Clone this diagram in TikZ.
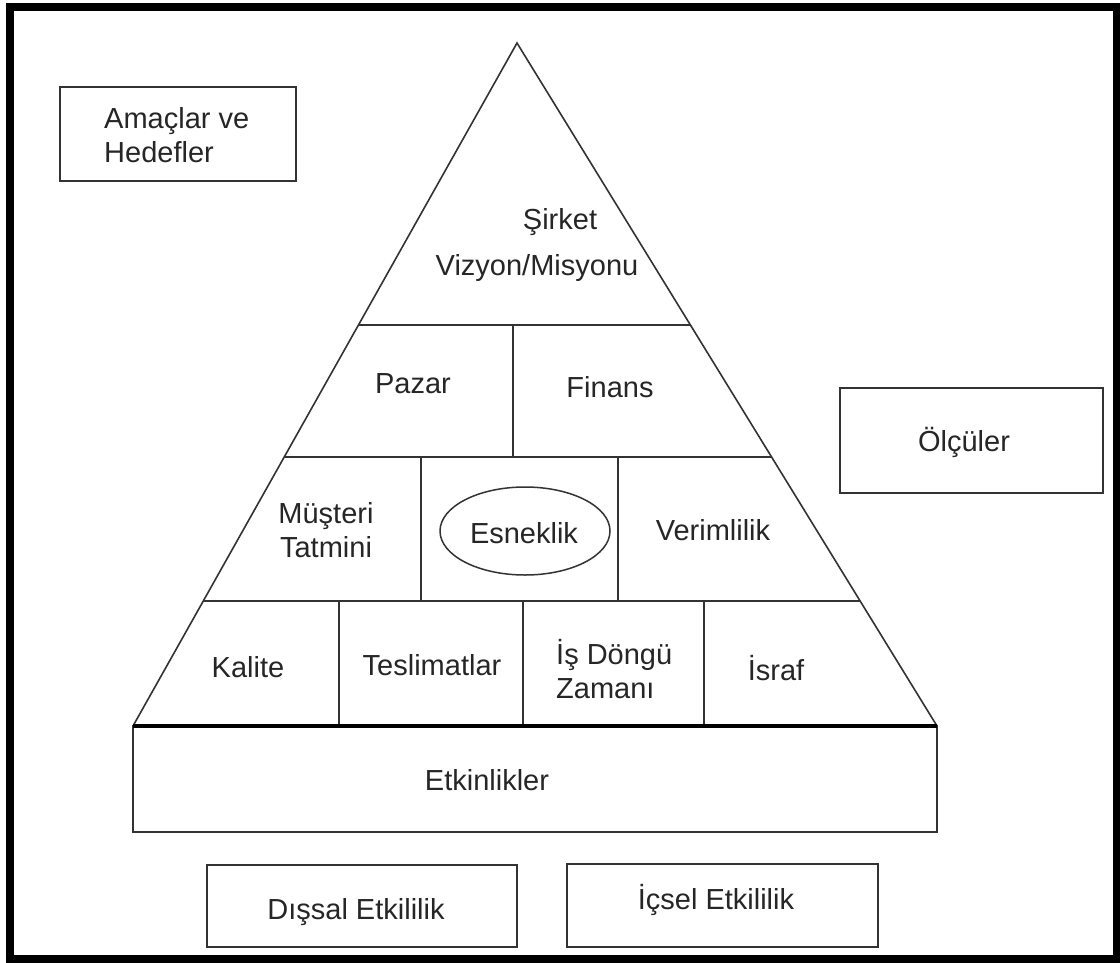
\documentclass[tikz,border=0pt]{standalone}
\usepackage{fontspec}
\setmainfont{Liberation Sans}
\usetikzlibrary{calc,shapes.geometric}
\definecolor{ink}{HTML}{262626}
\definecolor{rule}{HTML}{333333}
\begin{document}
\begin{tikzpicture}[x=1pt,y=-1pt,
  lbl/.style={inner sep=0pt,text=ink,font=\fontsize{29}{34}\selectfont,align=center},
  lbll/.style={lbl,align=left,anchor=west},
  box/.style={draw=rule,line width=2pt,inner sep=0pt},
  side/.style={draw=rule,line width=1.6pt},
  row/.style={draw=rule,line width=2pt},
  div/.style={draw=rule,line width=1.6pt}]
\useasboundingbox (0,0) rectangle (1120,962);
\fill[white] (0,0) rectangle (1120,962);
% outer frame
\draw[line width=8pt] (9.5,7) rectangle (1116.5,958.5);

% pyramid corners
\coordinate (apex) at (517,43);
\coordinate (bl) at (133,726);
\coordinate (br) at (937,726);
% tier boundaries along the sides
\coordinate (l1) at ($(apex)!0.4129!(bl)$);
\coordinate (r1) at ($(apex)!0.4129!(br)$);
\coordinate (l2) at ($(apex)!0.6061!(bl)$);
\coordinate (r2) at ($(apex)!0.6061!(br)$);
\coordinate (l3) at ($(apex)!0.8170!(bl)$);
\coordinate (r3) at ($(apex)!0.8170!(br)$);

\draw[side] (bl) -- (apex) -- (br);
\draw[row] (l1) -- (r1);
\draw[row] (l2) -- (r2);
\draw[row] (l3) -- (r3);

% vertical dividers inside the tiers
\draw[div] (513,325) -- (513,457);
\draw[div] (421,457) -- (421,601);
\draw[div] (618,457) -- (618,601);
\draw[div] (339,601) -- (339,726);
\draw[div] (523,601) -- (523,726);
\draw[div] (704,601) -- (704,726);

% base block
\node[box,minimum width=804,minimum height=106] (act) at (535,779) {};
\draw[line width=3.5pt] (bl) -- (br);
\node[lbl] (acttxt) at (487,780) {Etkinlikler};

% tier texts
\node[lbl] (sirket) at (560,222) {Şirket};
\node[lbl] (vizyon) at (537,268) {Vizyon/Misyonu};
\node[lbl] (pazar) at (413,384) {Pazar};
\node[lbl] (finans) at (610,387) {Finans};
\node[lbl] (musteri) at (326,530) {Müşteri\\Tatmini};
\node[draw=rule,line width=1.5pt,ellipse,minimum width=170,minimum height=88,inner sep=0pt] (esnek) at (525,531) {};
\node[lbl] (esnektxt) at (524,533) {Esneklik};
\node[lbl] (verim) at (713,530) {Verimlilik};
\node[lbl] (kalite) at (248,667) {Kalite};
\node[lbl] (teslim) at (432,665) {Teslimatlar};
\node[lbll] (dongu) at (556,669) {İş Döngü\\Zamanı};
\node[lbl] (israf) at (776,668) {İsraf};

% side boxes
\node[box,minimum width=236,minimum height=94] (goals) at (178,134) {};
\node[lbll] (goalstxt) at (104,135) {Amaçlar ve\\Hedefler};
\node[box,minimum width=263,minimum height=105] (meas) at (971.5,440.5) {};
\node[lbl] (meastxt) at (964,442) {Ölçüler};
\node[box,minimum width=310,minimum height=82] (ext) at (362,906) {};
\node[lbl] (exttxt) at (356,912) {Dışsal Etkililik};
\node[box,minimum width=311,minimum height=83] (int) at (722.5,905) {};
\node[lbl] (inttxt) at (716,900) {İçsel Etkililik};
\end{tikzpicture}
\end{document}
